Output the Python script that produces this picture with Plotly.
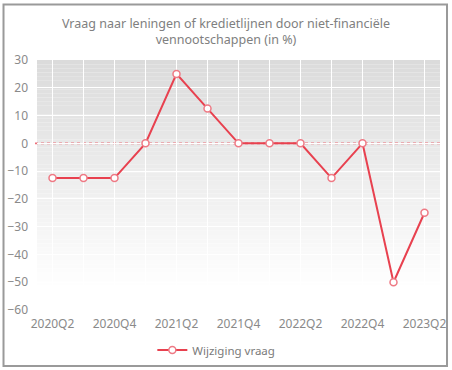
import plotly.graph_objects as go

categories = ["2020Q2", "2020Q3", "2020Q4", "2021Q1", "2021Q2", "2021Q3", "2021Q4",
              "2022Q1", "2022Q2", "2022Q3", "2022Q4", "2023Q1", "2023Q2"]
wijziging_vraag = [-12.5, -12.5, -12.5, 0, 25, 12.5, 0, 0, 0, -12.5, 0, -50, -25]
tick_labels = [c if i % 2 == 0 else "" for i, c in enumerate(categories)]
y_ticks = [30, 20, 10, 0, -10, -20, -30, -40, -50, -60]

title_text = "Vraag naar leningen of kredietlijnen door niet-financiële<br>vennootschappen (in %)"
series_name = "Wijziging vraag"

FONT = "Noto Sans, Open Sans, sans-serif"
GREY = "#8a8a8a"

fig = go.Figure()
fig.add_trace(go.Scatter(
    x=categories, y=wijziging_vraag, name=series_name,
    mode="lines+markers",
    line=dict(color="#e8414f", width=2),
    marker=dict(symbol="circle", size=7, color="white",
                line=dict(color="#ee7a85", width=1.5)),
    showlegend=True,
))

shapes = []
# vertical gradient background (grey at top -> white at bottom)
n = 60
top = (219, 219, 219)
bot = (255, 255, 255)
for i in range(n):
    t = i / (n - 1)
    c = tuple(round(top[k] + (bot[k] - top[k]) * min(1, t * 1.08)) for k in range(3))
    shapes.append(dict(type="rect", xref="paper", yref="paper",
                       x0=0, x1=1, y0=1 - (i + 1) / n, y1=1 - i / n,
                       fillcolor="rgb(%d,%d,%d)" % c, line=dict(width=0),
                       layer="below"))
# zero line (dotted red)
shapes.append(dict(type="line", xref="paper", yref="y", x0=-0.005, x1=1, y0=0, y1=0,
                   line=dict(color="#ec6f7a", width=1.8, dash="dot"), layer="between"))
# outer border
shapes.append(dict(type="rect", xref="paper", yref="paper",
                   x0=-0.0831, x1=1.0174, y0=-0.224, y1=1.222,
                   line=dict(color="#9a9a9a", width=2), fillcolor="rgba(0,0,0,0)",
                   layer="above"))

fig.update_layout(
    width=452, height=370,
    margin=dict(l=37, r=12, t=60, b=60, autoexpand=False),
    paper_bgcolor="white", plot_bgcolor="white",
    font=dict(family=FONT, size=12, color=GREY),
    title=dict(text=title_text, x=0.5, xref="container", xanchor="center",
               y=1 - 28 / 370, yanchor="top",
               font=dict(family=FONT, size=12.5, color="#808080")),
    shapes=shapes,
    showlegend=True,
    legend=dict(orientation="h", x=0.445, xanchor="center", y=-0.16, yanchor="middle",
                font=dict(family=FONT, size=11.5, color="#7a7a7a"),
                bgcolor="rgba(0,0,0,0)"),
    hovermode=False,
)
fig.update_xaxes(
    type="category", range=[-0.5, len(categories) - 0.5], automargin=False,
    tickvals=categories, ticktext=tick_labels,
    showgrid=True, gridcolor="white", gridwidth=1,
    showline=False, zeroline=False, ticks="", ticklabelstandoff=5,
    tickfont=dict(family=FONT, size=12, color=GREY),
)
fig.update_yaxes(
    range=[-60, 30], tickvals=y_ticks, automargin=False,
    showgrid=True, gridcolor="white", gridwidth=1,
    zeroline=False, showline=False, ticks="", ticklabelstandoff=8,
    tickfont=dict(family=FONT, size=12, color=GREY),
)

fig.write_html("out.html", config={"displayModeBar": False},
               post_script="document.body.style.margin='0';document.body.style.overflow='hidden';")
